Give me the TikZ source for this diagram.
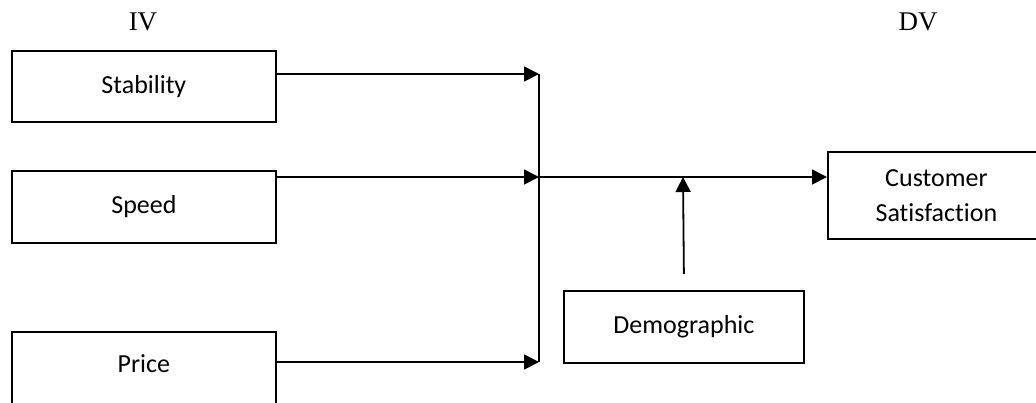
\documentclass[tikz,border=0pt]{standalone}
\usepackage{fontspec}
\setmainfont{Liberation Serif}
\newfontfamily\carlitofont[Ligatures=NoCommon]{Carlito}
\usetikzlibrary{arrows.meta}
\tikzset{
  box/.style={draw=black, line width=1.8pt, anchor=north west, inner sep=0pt,
    font=\carlitofont\fontsize{26}{35}\selectfont, align=center},
  hdr/.style={font=\fontsize{27}{30}\selectfont, inner sep=0pt},
  conn/.style={line width=1.8pt, -{Triangle[length=15pt,width=15pt]}},
  plain/.style={line width=1.8pt}
}
\begin{document}
\begin{tikzpicture}[x=1pt,y=-1pt]
\useasboundingbox (0,0) rectangle (1036,402);
\node[hdr] (iv) at (143,22) {IV};
\node[hdr] (dv) at (918,22) {DV};
\node[box, minimum width=264pt, minimum height=71pt] (stab) at (11,50) {Stability};
\node[box, minimum width=264pt, minimum height=72pt] (speed) at (11,170) {Speed};
\node[box, minimum width=264pt, minimum height=90pt,
  label={[font=\carlitofont\fontsize{26}{35}\selectfont, yshift=13pt]center:Price}] (price) at (11,331) {};
\node[box, minimum width=217pt, minimum height=87pt] (cust) at (827,151) {Customer\\Satisfaction};
\node[box, minimum width=240pt, minimum height=72pt] (demo) at (563,290) {Demographic};
\coordinate (j1) at (539,74);
\coordinate (j2) at (539,177);
\coordinate (j3) at (539,362);
\coordinate (m) at (683,177);
\draw[conn] (stab.east |- j1) -- (j1);
\draw[conn] (speed.east |- j2) -- (j2);
\draw[conn] (price.east |- j3) -- (j3);
\draw[plain] (j1) -- (j3);
\draw[conn] (j2) -- (cust.west |- j2);
\draw[conn] ([yshift=16pt]demo.north) -- (m);
\end{tikzpicture}
\end{document}
